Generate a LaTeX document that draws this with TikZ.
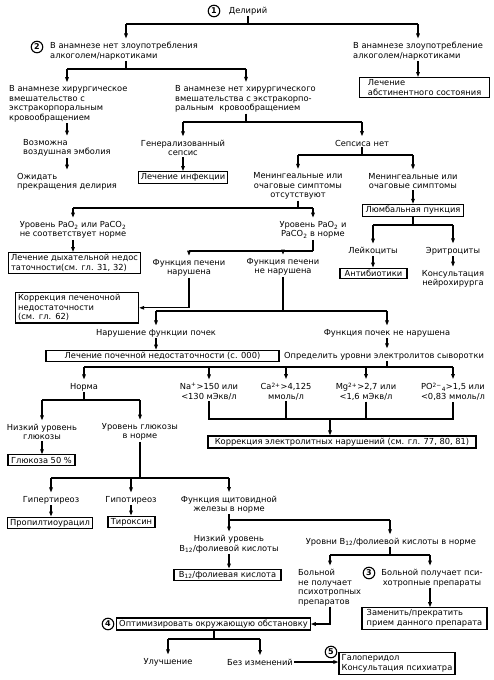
\documentclass[tikz,border=0pt]{standalone}
\usepackage{fontspec}
\setmainfont{DejaVu Sans}
\usetikzlibrary{arrows.meta}
\begin{document}
\begin{tikzpicture}[x=1pt,y=-1pt,
  every node/.style={font=\fontsize{8.3}{9.5}\selectfont, inner sep=1pt},
  txt/.style={align=center},
  ltxt/.style={align=left},
  box/.style={draw, line width=1.2pt, inner xsep=2.5pt, inner ysep=2pt, align=left},
  num/.style={draw, circle, fill=white, line width=1.1pt, inner sep=0pt, minimum size=11.5pt, font=\fontsize{8}{8}\selectfont\bfseries},
  ln/.style={line width=1.1pt},
  arr/.style={ln, -{Triangle[length=5pt,width=3.6pt]}},
  arrt/.style={arr, shorten >=2.5pt},
]
\useasboundingbox (0,0) rectangle (493,680);

% ---- top
\node[num] (c1) at (214,11) {1};
\node (n1) at (248,11) {Делирий};
\coordinate (A) at (248,24);
\coordinate (A1) at (126,24);
\coordinate (A2) at (418,24);
\node[num] (c2) at (37,47) {2};
\node[ltxt,anchor=west] (n2) at (49,51) {В анамнезе нет злоупотребления\\алкоголем/наркотиками};
\node[ltxt,anchor=west] (n3) at (352,51) {В анамнезе злоупотребление\\алкоголем/наркотиками};
\draw[ln] (n1.south) -- (A);
\draw[ln] (A1) -- (A2);
\draw[arrt] (A1) -- (A1 |- n2.north);
\draw[arrt] (A2) -- (A2 |- n3.north);
\node[box,minimum width=130pt,anchor=north west] (b1) at (359,77) {Лечение\\абстинентного состояния};
\draw[arr] (n3.south -| A2) -- (A2 |- b1.north);

% ---- fork B
\coordinate (B) at (126,69);
\coordinate (B1) at (67,69);
\coordinate (B2) at (246,69);
\node[ltxt,anchor=west] (n4) at (8,104) {В анамнезе хирургическое\\вмешательство с\\экстракорпоральным\\кровообращением};
\node[ltxt,anchor=west] (n5) at (174,99) {В анамнезе нет хирургического\\вмешательства с экстракорпо-\\ральным~~кровообращением};
\draw[ln] (n2.south -| B) -- (B);
\draw[ln] (B1) -- (B2);
\draw[arrt] (B1) -- (B1 |- n4.north);
\draw[arrt] (B2) -- (B2 |- n5.north);
\node[ltxt,anchor=west] (n6) at (22,148) {Возможна\\воздушная эмболия};
\node[ltxt,anchor=west] (n7) at (16,182) {Ожидать\\прекращения делирия};
\draw[arrt] (n4.south -| B1) -- (B1 |- n6.north);
\draw[arrt] (n6.south -| B1) -- (B1 |- n7.north);

% ---- fork C
\coordinate (C) at (246,122);
\coordinate (C1) at (183,122);
\coordinate (C2) at (362,122);
\node[txt] (n8) at (183,148) {Генерализованный\\сепсис};
\node[txt] (n9) at (362,143) {Сепсиса нет};
\draw[ln] (n5.south -| C) -- (C);
\draw[ln] (C1) -- (C2);
\draw[arrt] (C1) -- (n8.north);
\draw[arrt] (C2) -- (n9.north);
\node[box,minimum width=89pt] (b2) at (183,177.5) {Лечение инфекции};
\draw[arr] (n8.south) -- (b2.north);

% ---- fork D
\coordinate (D) at (362,155);
\coordinate (D1) at (298,155);
\coordinate (D2) at (413,155);
\node[txt] (n10) at (298,186) {Менингеальные или\\очаговые симптомы\\отсутствуют};
\node[txt] (n11) at (413,181) {Менингеальные или\\очаговые симптомы};
\draw[ln] (n9.south) -- (D);
\draw[ln] (D1) -- (D2);
\draw[arrt] (D1) -- (n10.north);
\draw[arrt] (D2) -- (n11.north);
\node[box,minimum width=101pt] (b3) at (413,210.5) {Люмбальная пункция};
\draw[arr] (n11.south) -- (b3.north);

% ---- fork O
\coordinate (O) at (413,225);
\coordinate (O1) at (373,225);
\coordinate (O2) at (453,225);
\node[txt] (n35) at (373,251) {Лейкоциты};
\node[txt] (n36) at (453,251) {Эритроциты};
\draw[ln] (b3.south) -- (O);
\draw[ln] (O1) -- (O2);
\draw[arrt] (O1) -- (n35.north);
\draw[arrt] (O2) -- (n36.north);
\node[box,minimum width=67pt] (b15) at (373.5,273.5) {Антибиотики};
\draw[arr] (n35.south) -- (n35.south |- b15.north);
\node[txt] (n37) at (453,279) {Консультация\\нейрохирурга};
\draw[arrt] (n36.south) -- (n37.north);

% ---- fork E
\coordinate (E) at (298,208);
\coordinate (E1) at (73,208);
\coordinate (E2) at (313,208);
\node[txt] (n12) at (73,230) {Уровень PaO\textsubscript{2} или PaCO\textsubscript{2}\\не соответствует норме};
\node[txt] (n13) at (313,230) {Уровень PaO\textsubscript{2} и\\PaCO\textsubscript{2} в норме};
\draw[ln] (n10.south) -- (E);
\draw[ln] (E1) -- (E2);
\draw[arrt] (E1) -- (n12.north);
\draw[arrt] (E2) -- (n13.north);
\node[box,minimum width=131pt,anchor=north west] (b4) at (8,252) {Лечение дыхательной недос\\таточности(см. гл. 31, 32)};
\draw[arr] (n12.south) -- (n12.south |- b4.north);

% ---- fork F
\coordinate (F) at (313,251);
\coordinate (F1) at (189,251);
\coordinate (F2) at (283,251);
\node[txt] (n14) at (189,268) {Функция печени\\нарушена};
\node[txt] (n15) at (283,267) {Функция печени\\не нарушена};
\draw[ln] (n13.south) -- (F);
\draw[ln] (F1) -- (F);
\draw[arrt] (F1) -- (n14.north);
\draw[arrt] (F2) -- (n15.north);
\node[box,text width=118pt,anchor=north west] (b5) at (15,292) {Коррекция печеночной\\недостаточности\\(см. гл. 62)};
\draw[arr] (n14.south) |- (b5.east);

% ---- fork G
\coordinate (G) at (283,311);
\coordinate (G1) at (156,311);
\coordinate (G2) at (387,311);
\node[txt] (n16) at (156,333) {Нарушение функции почек};
\node[txt] (n17) at (387,333) {Функция почек не нарушена};
\draw[ln] (n15.south) -- (G);
\draw[ln] (G1) -- (G2);
\draw[arrt] (G1) -- (n16.north);
\draw[arrt] (G2) -- (n17.north);
\node[box,minimum width=233pt] (b6) at (162.5,356) {Лечение почечной недостаточности (с. 000)};
\draw[arr] (n16.south) -- (n16.south |- b6.north);
\node[txt] (n18) at (384,356) {Определить уровни электролитов сыворотки};
\draw[arrt] (n17.south) -- (n17.south |- n18.north);

% ---- fork H
\coordinate (H) at (387,367);
\coordinate (H1) at (84,367);
\coordinate (H5) at (453,367);
\node[txt] (n19) at (84,387) {Норма};
\node[txt] (n20) at (209,391.5) {Na\textsuperscript{+}>150 или\\<130 мЭкв/л};
\node[txt] (n21) at (286,391.5) {Ca\textsuperscript{2+}>4,125\\ммоль/л};
\node[txt] (n22) at (366,391.5) {Mg\textsuperscript{2+}>2,7 или\\<1,6 мЭкв/л};
\node[txt] (n23) at (453,391.5) {PO\textsuperscript{2−}\textsubscript{4}>1,5 или\\<0,83 ммоль/л};
\draw[ln] (n18.south -| H) -- (H);
\draw[ln] (H1) -- (H5);
\draw[arrt] (n19.north |- H) -- (n19.north);
\draw[arrt] (n20.north |- H) -- (n20.north);
\draw[arrt] (n21.north |- H) -- (n21.north);
\draw[arrt] (n22.north |- H) -- (n22.north);
\draw[arrt] (n23.north |- H) -- (n23.north);

% ---- bracket I
\coordinate (I) at (330,419);
\draw[ln] (n20.south) -- (n20.south |- I) -- (n23.south |- I) -- (n23.south);
\draw[ln] (n21.south) -- (n21.south |- I);
\draw[ln] (n22.south) -- (n22.south |- I);
\node[box,minimum width=268pt] (b7) at (342,442) {Коррекция электролитных нарушений (см. гл. 77, 80, 81)};
\draw[arr] (I) -- (I |- b7.north);

% ---- fork J
\coordinate (J) at (84,400);
\node[txt] (n24) at (42,432) {Низкий уровень\\глюкозы};
\node[txt] (n25) at (140,432) {Уровень глюкозы\\в норме};
\draw[ln] (n19.south) -- (J);
\draw[ln] (n24.north |- J) -- (n25.north |- J);
\draw[arrt] (n24.north |- J) -- (n24.north);
\draw[arrt] (n25.north |- J) -- (n25.north);
\node[box,minimum width=67pt] (b8) at (41.5,460) {Глюкоза 50 \%};
\draw[arr] (n24.south) -- (n24.south |- b8.north);

% ---- fork K
\coordinate (K) at (140,478);
\node[txt] (n26) at (51,500) {Гипертиреоз};
\node[txt] (n27) at (131,500) {Гипотиреоз};
\node[txt] (n28) at (229,504.5) {Функция щитовидной\\железы в норме};
\draw[ln] (n25.south) -- (K);
\draw[ln] (n26.north |- K) -- (n28.north |- K);
\draw[arrt] (n26.north |- K) -- (n26.north);
\draw[arrt] (n27.north |- K) -- (n27.north);
\draw[arrt] (n28.north |- K) -- (n28.north);
\node[box,minimum width=84pt] (b9) at (50,523) {Пропилтиоурацил};
\node[box,minimum width=47pt] (b10) at (131.5,522) {Тироксин};
\draw[arr] (n26.south) -- (n26.south |- b9.north);
\draw[arr] (n27.south) -- (n27.south |- b10.north);

% ---- fork L
\coordinate (L) at (229,520);
\coordinate (L2) at (390,520);
\node[txt] (n29) at (229,544) {Низкий уровень\\B\textsubscript{12}/фолиевой кислоты};
\node[txt] (n30) at (391,542) {Уровни B\textsubscript{12}/фолиевой кислоты в норме};
\draw[ln] (n28.south) -- (L) -- (L2);
\draw[arrt] (L) -- (n29.north);
\draw[arrt] (L2) -- (L2 |- n30.north);
\node[box,minimum width=107pt] (b11) at (227.5,575) {B\textsubscript{12}/фолиевая кислота};
\draw[arr] (n29.south) -- (n29.south |- b11.north);

% ---- fork M
\coordinate (M) at (390,555);
\coordinate (M1) at (330,555);
\coordinate (M2) at (430,555);
\node[ltxt,anchor=north west] (n31) at (297,568) {Больной\\не получает\\психотропных\\препаратов};
\node[txt] (n32) at (432,578) {Больной получает пси-\\хотропные препараты};
\node[num] (c3) at (369,573) {3};
\draw[ln] (n30.south -| M) -- (M);
\draw[ln] (M1) -- (M2);
\draw[arrt] (M1) -- (M1 |- n31.north);
\draw[arrt] (M2) -- (M2 |- n32.north);
\node[box,minimum width=125pt] (b12) at (424.5,618.5) {Заменить/прекратить\\прием данного препарата};
\draw[arr] (n32.south -| M2) -- (M2 |- b12.north);

% ---- optimise
\node[box,minimum width=193pt] (b13) at (213.5,624) {Оптимизировать окружающую обстановку};
\node[num] (c4) at (108,624) {4};
\draw[arr] (n31.south -| M1) |- (b13.east);

% ---- fork N
\coordinate (N) at (214,639);
\node[txt] (n33) at (168,662) {Улучшение};
\node[txt] (n34) at (260,662) {Без изменений};
\draw[ln] (b13.south -| N) -- (N);
\draw[ln] (n33.north |- N) -- (n34.north |- N);
\draw[arrt] (n33.north |- N) -- (n33.north);
\draw[arrt] (n34.north |- N) -- (n34.north);
\node[box,minimum width=116pt] (b14) at (397,663.5) {Галоперидол\\Консультация психиатра};
\node[num] (c5) at (331,652) {5};
\draw[arr] (n34.east) -- (n34.east -| b14.west);
\end{tikzpicture}
\end{document}
